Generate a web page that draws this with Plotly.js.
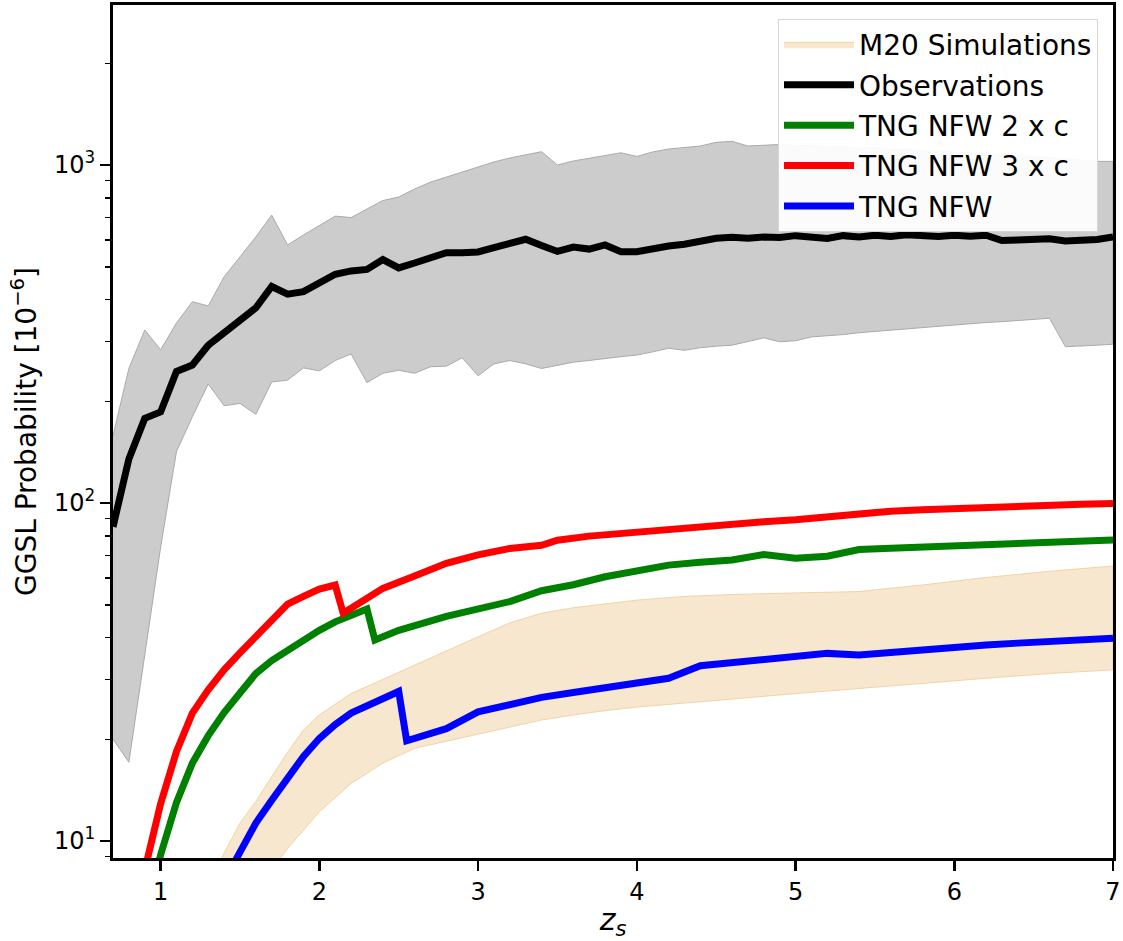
<!DOCTYPE html>
<html>
<head>
<meta charset="utf-8">
<script src="https://cdn.plot.ly/plotly-3.0.1.min.js"></script>
<style>html,body{margin:0;padding:0;background:#fff;}#chart{width:1123px;height:941px;}</style>
</head>
<body>
<div id="chart"></div>
<script>
// ---------- Observations (median and spread), z_s grid ----------
var obsZ = [0.7,0.8,0.9,1.0,1.1,1.2,1.3,1.4,1.5,1.6,1.7,1.8,1.9,2.0,2.1,2.2,2.3,2.4,2.5,2.6,2.7,2.8,2.9,3.0,
            3.1,3.2,3.3,3.4,3.5,3.6,3.7,3.8,3.9,4.0,4.1,4.2,4.3,4.4,4.5,4.6,4.7,4.8,4.9,5.0,5.1,5.2,5.3,5.4,
            5.5,5.6,5.7,5.8,5.9,6.0,6.1,6.2,6.3,6.4,6.5,6.6,6.7,6.8,6.9,7.0];
var obsMedian = [85,135,178,186,245,256,293,318,344,378,437,415,422,449,475,486,491,525,496,513,531,550,550,553,
                 570,586,603,578,555,572,564,580,554,554,567,576,583,596,607,611,607,612,610,618,612,606,618,612,
                 620,615,622,618,614,620,616,620,598,600,604,605,596,598,602,612];
var obsUpper = [158,250,325,284,341,394,383,467,535,613,711,580,621,661,706,699,740,785,804,849,890,922,955,986,
                1021,1049,1070,1095,1000,1028,1047,1067,1087,1060,1093,1115,1126,1138,1167,1175,1138,1145,1150,1140,1145,1130,1135,1120,
                1125,1110,1115,1100,1105,1090,1085,1080,1070,1065,1060,1050,1040,1030,1025,1025];
var obsLower = [20,17.1,35.5,74,142,180,225,194,197,183,228,231,251,246,264,276,227,242,247,242,253,254,269,238,
                258,264,258,250,256,261,264,267,271,274,280,287,283,288,291,293,300,308,300,302,310,313,315,319,
                322,324,328,331,333,337,339,342,344,347,349,352,290,292,293,295];

// ---------- M20 Simulations band ----------
var m20Z     = [1.3,1.4,1.5,1.6,1.7,1.8,1.9,2.0,2.2,2.4,2.6,2.8,3.0,3.2,3.4,3.6,3.8,4.0,4.3,4.6,5.0,5.4,5.8,6.2,6.6,7.0];
var m20Upper = [7.4,9.2,11.3,13.1,15.5,18.3,21.3,23.6,27.3,30.1,33.2,36.5,40.2,44.2,47.2,49.0,50.4,51.6,52.9,53.6,54.2,54.7,57.2,60.2,62.8,65.1];
var m20Lower = [4.5,5.4,6.3,7.2,8.2,9.5,10.8,12.2,14.8,17.0,18.8,19.7,20.7,21.7,22.8,23.6,24.3,24.9,25.6,26.3,27.3,28.3,29.3,30.3,31.3,32.1];

// ---------- TNG NFW 2 x c ----------
var nfw2Z = [0.95,1.0,1.1,1.2,1.3,1.4,1.5,1.6,1.7,1.8,1.9,2.0,2.1,2.2,2.3,2.35,2.5,2.8,3.0,3.2,3.4,3.6,3.8,4.0,4.2,4.4,4.6,4.8,5.0,5.2,5.4,5.6,5.8,6.0,6.2,6.4,6.6,6.8,7.0];
var nfw2P = [7.3,9.1,13.0,17.0,20.5,24.0,27.4,31.3,34.2,36.7,39.3,42.0,44.5,46.5,48.6,39.3,42.0,46.2,48.8,51.1,55.0,57.3,60.5,62.7,65.5,66.8,67.8,70.4,68.6,69.6,72.8,73.5,74.2,74.9,75.6,76.2,76.8,77.3,77.7];

// ---------- TNG NFW 3 x c ----------
var nfw3Z = [0.9,1.0,1.1,1.2,1.3,1.4,1.5,1.6,1.7,1.8,1.9,2.0,2.1,2.15,2.2,2.4,2.6,2.8,3.0,3.2,3.4,3.5,3.7,3.9,4.1,4.4,4.6,4.8,5.0,5.2,5.4,5.6,5.8,6.0,6.2,6.4,6.6,6.8,7.0];
var nfw3P = [8.2,12.9,18.4,23.9,28.0,32.1,36.0,40.2,45.1,50.2,52.9,55.6,57.2,47.2,48.8,55.9,60.8,66.3,70.2,73.4,75.0,77.6,79.8,81.4,83.0,84.8,86.7,88.0,89.2,91.1,93.6,94.6,95.5,96.4,97.2,98.0,98.6,99.1,99.6];

// ---------- TNG NFW ----------
var nfwZ = [1.4,1.5,1.6,1.7,1.8,1.9,2.0,2.1,2.2,2.3,2.4,2.5,2.55,2.6,2.8,3.0,3.2,3.4,3.6,3.8,4.0,4.2,4.4,4.6,4.8,5.0,5.2,5.4,5.6,5.8,6.0,6.2,6.4,6.6,6.8,7.0];
var nfwP = [7.6,9.3,11.3,13.2,15.4,17.8,20.1,22.1,23.9,25.2,26.5,27.7,19.8,20.1,21.5,24.1,25.3,26.6,27.5,28.4,29.3,30.3,33.0,33.7,34.4,35.2,35.9,35.5,36.2,36.8,37.5,38.0,38.5,39.0,39.4,39.8];

// ---------- axis ticks ----------
var xTicks = [1,2,3,4,5,6,7];
var yTickVals = [10,100,1000];
var yTickText = ['10<sup>1</sup>','10<sup>2</sup>','10<sup>3</sup>'];
var yMinor = [9,20,30,40,50,60,70,80,90,200,300,400,500,600,700,800,900,2000,3000];

function band(xs, up, lo) {
  return {
    x: xs.concat(xs.slice().reverse()),
    y: up.concat(lo.slice().reverse())
  };
}
var obsBand = band(obsZ, obsUpper, obsLower);
var m20Band = band(m20Z, m20Upper, m20Lower);

var LW = 7;
var traces = [
  {x: obsBand.x, y: obsBand.y, type:'scatter', mode:'lines', fill:'toself',
   fillcolor:'#cccccc', line:{color:'#aaaaaa', width:1}, showlegend:false, hoverinfo:'skip'},
  {x: m20Band.x, y: m20Band.y, type:'scatter', mode:'lines', fill:'toself',
   fillcolor:'#f7e7cf', line:{color:'#f2d3a6', width:1}, name:'M20 Simulations',
   legendgroup:'a', legendrank:1},
  {x: obsZ, y: obsMedian, type:'scatter', mode:'lines', line:{color:'#000000', width:LW},
   name:'Observations', legendgroup:'b', legendrank:2},
  {x: nfw2Z, y: nfw2P, type:'scatter', mode:'lines', line:{color:'#008000', width:LW},
   name:'TNG NFW 2 x c', legendgroup:'c', legendrank:3},
  {x: nfw3Z, y: nfw3P, type:'scatter', mode:'lines', line:{color:'#ff0000', width:LW},
   name:'TNG NFW 3 x c', legendgroup:'d', legendrank:4},
  {x: nfwZ, y: nfwP, type:'scatter', mode:'lines', line:{color:'#0000ff', width:LW},
   name:'TNG NFW', legendgroup:'e', legendrank:5}
];

var font = 'DejaVu Sans, Liberation Sans, sans-serif';
var layout = {
  width:1123, height:941,
  margin:{l:113, r:10, t:5, b:83},
  paper_bgcolor:'#ffffff', plot_bgcolor:'#ffffff',
  font:{family:font, color:'#000000', size:24},
  showlegend:true,
  legend:{
    x:0.985, xanchor:'right', y:0.984, yanchor:'top',
    bgcolor:'rgba(255,255,255,0.92)', bordercolor:'#d6d6d6', borderwidth:1,
    font:{family:font, size:28, color:'#000000'},
    traceorder:'grouped', tracegroupgap:1, itemwidth:70
  },
  xaxis:{
    range:[0.7,7], tickvals:xTicks, ticks:'outside', ticklen:10, tickwidth:2.5, tickcolor:'#000',
    showline:true, linewidth:3, linecolor:'#000', mirror:true, showgrid:false, zeroline:false,
    tickfont:{family:font, size:24, color:'#000'},
    title:{text:'<i>z</i><sub><i>s</i></sub>', font:{family:font, size:30, color:'#000'}, standoff:28}
  },
  yaxis:{
    type:'log', range:[0.9497,3.4734], tickvals:yTickVals, ticktext:yTickText,
    ticks:'outside', ticklen:10, tickwidth:2.5, tickcolor:'#000',
    minor:{tickvals:yMinor, ticks:'outside', ticklen:5, tickwidth:1.5, tickcolor:'#000', showgrid:false},
    showline:true, linewidth:3, linecolor:'#000', mirror:true, showgrid:false, zeroline:false,
    tickfont:{family:font, size:24, color:'#000'},
    title:{text:'GGSL Probability [10<sup>\u22126</sup>]', font:{family:font, size:28, color:'#000'}, standoff:10}
  }
};

Plotly.newPlot('chart', traces, layout, {staticPlot:true, displayModeBar:false});
</script>
</body>
</html>
